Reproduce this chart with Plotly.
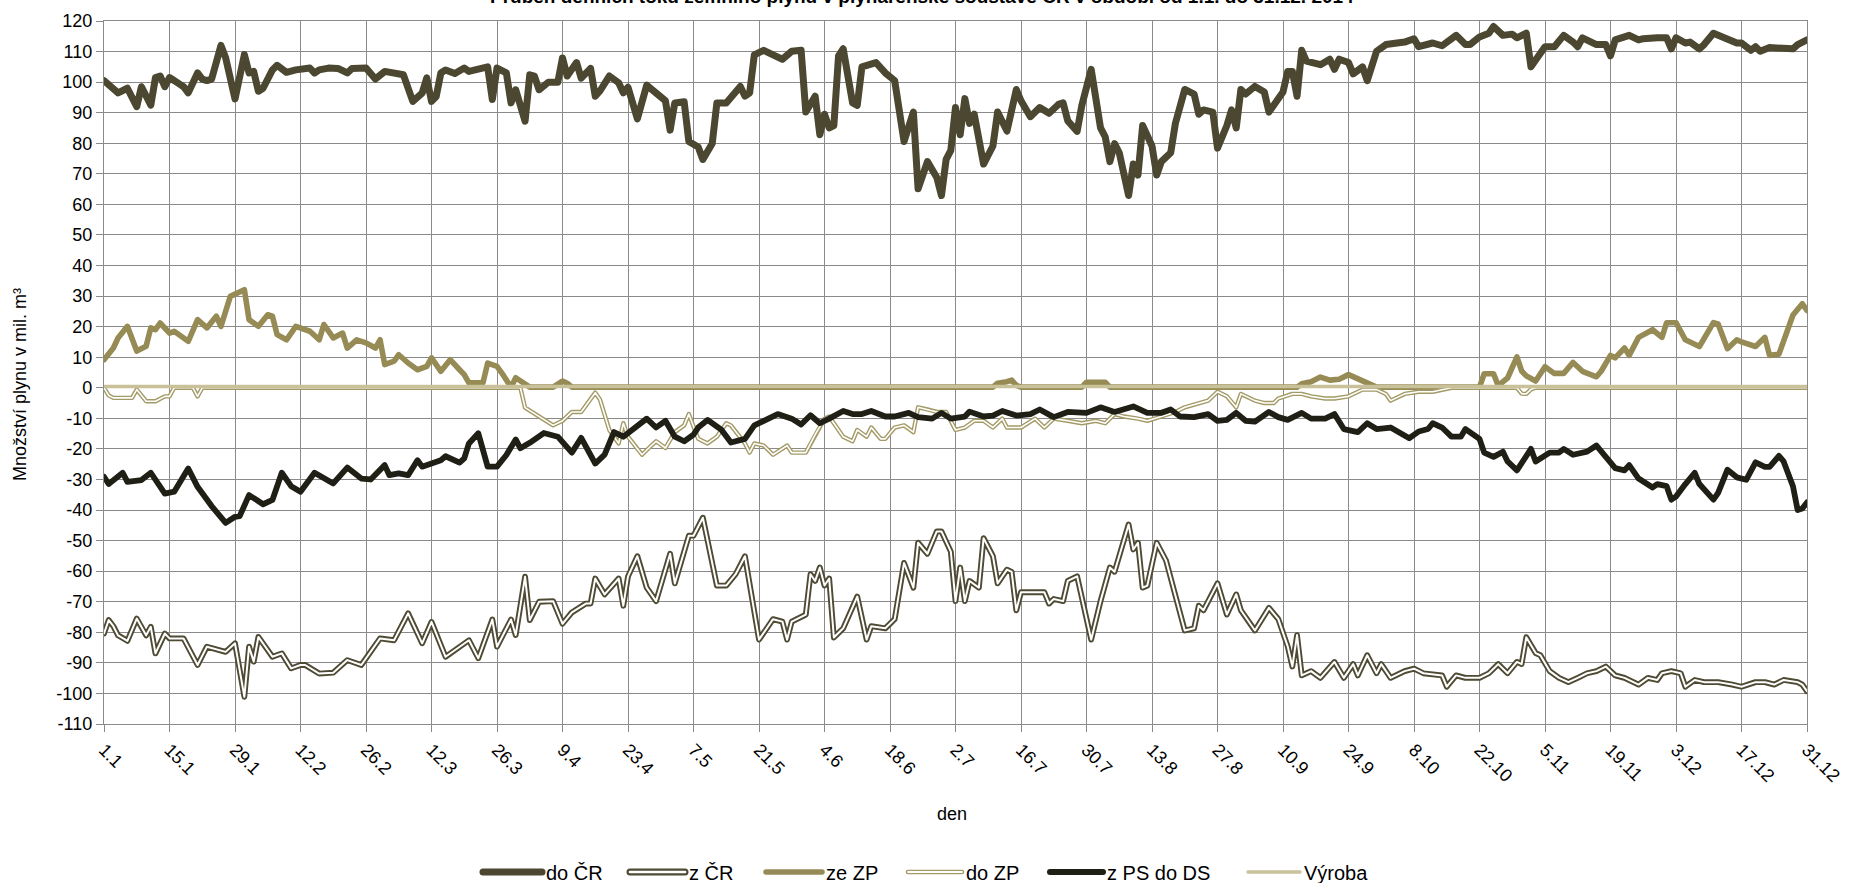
import datetime as dt
import plotly.graph_objects as go

# ---------------- data (day of year 0 = 1.1.2014, values in mil. m3) ----------------
tick_labels = ["1.1", "15.1", "29.1", "12.2", "26.2", "12.3", "26.3", "9.4", "23.4", "7.5",
               "21.5", "4.6", "18.6", "2.7", "16.7", "30.7", "13.8", "27.8", "10.9", "24.9",
               "8.10", "22.10", "5.11", "19.11", "3.12", "17.12", "31.12"]

do_CR = [(0, 100.5), (1, 99), (2, 97.5), (3, 96.5), (5, 98), (7, 92), (8, 98.5), (10, 92.5), (11, 101.5),
         (12, 102), (13, 98.5), (14, 101.5), (16, 99.5), (17, 98.5), (18, 96.5), (20, 103), (21, 101),
         (22, 100.5), (23, 101), (25, 112), (26, 108), (27, 100), (28, 94.5), (30, 109), (31, 103),
         (32, 103.5), (33, 97), (34, 98), (36, 104), (37, 105.5), (39, 103.2), (41, 104), (44, 104.6),
         (45, 103), (46, 104), (48, 104.6), (50, 104.5), (52, 103), (53, 104.5), (56, 104.6), (58, 101),
         (60, 103.5), (62, 103), (64, 102.4), (66, 93.7), (68, 96.4), (69, 101.4), (70, 93.7), (71, 95.3),
         (72, 103), (73, 104), (75, 102.8), (77, 104.6), (78, 103.5), (82, 105), (83, 94.3), (84, 104.6),
         (86, 103), (87, 93.2), (88, 97.5), (90, 87.2), (91, 102.4), (92, 102), (93, 97.5), (95, 100),
         (97, 100), (98, 107.9), (99, 102), (101, 106.4), (102, 101.3), (104, 104.5), (105, 95.4),
         (106, 97.1), (108, 102), (110, 99.8), (111, 96.5), (112, 98.3), (114, 88), (116, 99), (118, 96.8),
         (120, 93.9), (121, 84.3), (122, 93.2), (124, 93.6), (125, 80.6), (127, 78.8), (128, 74.7),
         (130, 79.9), (131, 93.2), (133, 93.2), (135, 96.5), (136, 98.6), (137, 95.4), (138, 96.5),
         (139, 108.9), (141, 110.4), (143, 108.9), (145, 107.5), (147, 110.1), (149, 110.4), (150, 90.2),
         (152, 95.4), (153, 82.8), (154, 89.5), (155, 85), (156, 85.8), (157, 108.6), (158, 110.9),
         (160, 93.2), (161, 92.4), (162, 105), (165, 106.4), (167, 103), (169, 100.5), (171, 80.6),
         (173, 90.2), (174, 65.1), (176, 74), (178, 68.8), (179, 62.9), (180, 74.7), (181, 77.7),
         (182, 91.7), (183, 82.8), (184, 94.6), (185, 86.5), (186, 89.5), (188, 73.2), (190, 79.1),
         (191, 90.2), (193, 84), (195, 97.6), (196, 93.9), (198, 88.7), (200, 91.7), (202, 89.8),
         (204, 92.7), (205, 93.2), (206, 87.3), (208, 83.9), (209, 92.4), (211, 104.2), (213, 85),
         (214, 82.1), (215, 74), (216, 79.9), (217, 76.9), (219, 62.9), (220, 73.2), (221, 69.6),
         (222, 85.8), (224, 79.1), (225, 69.6), (226, 74), (228, 76.9), (229, 86.5), (231, 97.6),
         (233, 96.1), (234, 89.5), (235, 90.9), (237, 90.2), (238, 78.4), (240, 85.8), (241, 90.9),
         (242, 85), (243, 97.6), (244, 96.1), (246, 98.6), (248, 96.8), (249, 90.2), (252, 96.8),
         (253, 103.5), (254, 103.5), (255, 95.4), (256, 110.4), (257, 106.9), (260, 105.7), (262, 107.5),
         (263, 104.2), (264, 107.5), (266, 106.4), (267, 102.7), (269, 105), (270, 100.5), (272, 110.1),
         (274, 112.3), (278, 113.1), (280, 114.2), (281, 111.6), (284, 112.8), (286, 111.9), (288, 113.8),
         (289, 115.3), (291, 112.3), (292, 112.3), (294, 114.8), (296, 116), (297, 118.2), (299, 115.3),
         (301, 115.7), (302, 114.5), (304, 116), (305, 105), (306, 107.2), (308, 111.6), (310, 111.6),
         (312, 115.3), (314, 113.1), (315, 111.6), (316, 114.5), (319, 112.3), (321, 112.3), (322, 108.6),
         (323, 113.8), (326, 115.3), (328, 113.8), (329, 114.2), (332, 114.5), (334, 114.5), (335, 110.9),
         (336, 114.5), (338, 112.8), (339, 113.1), (341, 110.9), (342, 112.3), (344, 116), (346, 114.5),
         (349, 112.8), (350, 112.8), (352, 110.4), (353, 111.6), (354, 110.1), (356, 111.3), (359, 110.9),
         (361, 110.9), (362, 112.3), (363, 113.4), (364, 113.8)]

z_CR = [(0, -80.4), (1, -76), (2, -78), (3, -81), (5, -82.8), (7, -75.5), (9, -81), (10, -78.2), (11, -86.9),
        (13, -80.4), (14, -82), (17, -82), (20, -90.7), (22, -84.7), (26, -86.4), (28, -83.6), (30, -101.1),
        (31, -84.7), (32, -89.6), (33, -81.5), (36, -88), (38, -86.9), (40, -91.8), (42, -90.7), (43, -90.7),
        (46, -93.5), (49, -93.2), (52, -89.1), (55, -90.7), (59, -82), (62, -82.6), (65, -73.8), (68, -83.6),
        (70, -76.6), (73, -88), (75, -85.8), (78, -82.6), (80, -88.5), (83, -75.8), (84, -84.7), (87, -75.8),
        (88, -80.9), (90, -61.8), (91, -76), (93, -70), (96, -69.8), (98, -77.2), (100, -73.5), (103, -70.6),
        (104, -70.6), (105, -62.4), (107, -67.6), (110, -62.4), (111, -71.3), (112, -61.7), (114, -55.1),
        (116, -65.4), (118, -69.8), (121, -54.3), (122, -64), (125, -48.4), (126, -48.4), (128, -42.5),
        (131, -64.7), (133, -64.7), (135, -61), (137, -55.1), (140, -82.4), (143, -75.7), (145, -76.5),
        (146, -82.4), (147, -76.5), (150, -74.2), (151, -61), (152, -63.2), (153, -58.8), (154, -64.7),
        (155, -62.4), (156, -81.7), (158, -78.7), (161, -68.3), (163, -82.4), (164, -78), (167, -78.7),
        (169, -75.7), (171, -57.3), (173, -65.4), (174, -50.7), (176, -54.3), (178, -47), (179, -47),
        (181, -53.6), (182, -69.8), (183, -58.8), (184, -69.8), (185, -63.2), (187, -65.4), (188, -49.2),
        (190, -55.1), (191, -64), (193, -59.5), (194, -60.2), (195, -72.8), (196, -66.9), (199, -66.9),
        (201, -66.9), (202, -70.6), (203, -69.1), (205, -69.8), (206, -63.2), (208, -61.7), (211, -82.4),
        (213, -69.8), (215, -58.8), (216, -60.2), (219, -44.7), (220, -52.9), (221, -50.7), (222, -65.4),
        (223, -64.7), (225, -50.7), (227, -56.5), (231, -79.4), (233, -78.7), (234, -71.3), (235, -72.8),
        (238, -64), (240, -74.2), (242, -67.6), (243, -72.8), (246, -79.4), (249, -72), (251, -75.7),
        (253, -84.6), (254, -91.2), (255, -80.9), (256, -94.1), (258, -92.7), (260, -94.9), (263, -89.7),
        (265, -94.9), (267, -90.4), (268, -94.1), (270, -87.5), (272, -93.4), (273, -90.4), (275, -94.9),
        (278, -92.7), (280, -91.9), (282, -93.4), (286, -94.1), (287, -97.8), (289, -94.1), (291, -94.9),
        (294, -94.9), (296, -93.4), (298, -90.4), (300, -93.4), (302, -89.7), (303, -90.4), (304, -81.6),
        (306, -86.8), (307, -87.5), (309, -92.7), (311, -94.9), (313, -96.3), (315, -94.9), (317, -93.4),
        (319, -92.7), (321, -91.2), (323, -94.1), (325, -94.9), (328, -97.1), (330, -94.9), (332, -95.6),
        (333, -93.4), (335, -92.7), (337, -93.4), (338, -97.8), (340, -95.6), (342, -96.3), (345, -96.3),
        (348, -97.1), (350, -97.8), (353, -96.3), (355, -96.3), (357, -97.1), (359, -95.6), (362, -96.3),
        (363, -97.1), (364, -99.3)]

ze_ZP = [(0, 9.2), (2, 13), (3, 16.3), (5, 20.1), (7, 12), (9, 13.6), (10, 19.6), (11, 19), (12, 21.2),
         (14, 17.9), (15, 18.5), (18, 15.2), (20, 22.3), (22, 19.6), (24, 23.4), (25, 20.1), (27, 29.9),
         (28, 30.5), (30, 32.1), (31, 22.3), (33, 20.1), (35, 23.9), (36, 23.4), (37, 17.4), (39, 15.7),
         (41, 20.1), (43, 19), (44, 18.5), (46, 15.7), (47, 20.7), (49, 16.3), (51, 17.9), (52, 13),
         (54, 15.7), (56, 14.7), (58, 13), (59, 15.7), (60, 7.6), (62, 8.7), (63, 10.8), (65, 8.1),
         (67, 5.9), (69, 7), (70, 9.8), (72, 5.4), (74, 9.2), (76, 5.9), (77, 4.3), (78, 1.6), (81, 1.6),
         (82, 8.1), (84, 7), (85, 4.9), (87, 0.2), (88, 3.3), (90, 1.1), (91, 0.2), (96, 0.2), (97, 1.5),
         (98, 2.2), (99, 1.5), (100, 0.2), (190, 0.2), (191, 1.5), (193, 2), (194, 2.5), (195, 0.8),
         (196, 0.2), (209, 0.2), (210, 1.8), (214, 1.8), (215, 0.2), (255, 0.2), (256, 1.3), (258, 2),
         (260, 3.5), (262, 2.5), (264, 2.8), (266, 4.3), (268, 3), (270, 1.3), (272, 0.2), (294, 0.2),
         (295, 4.6), (297, 4.6), (298, 0.7), (300, 3.2), (302, 10.1), (303, 5.5), (304, 3.9), (306, 2.2),
         (308, 6.9), (310, 4.7), (312, 4.7), (314, 8.3), (316, 5.4), (319, 3.6), (320, 5.4), (322, 10.6),
         (323, 9.8), (325, 13), (326, 10.6), (328, 16.5), (330, 17.9), (331, 19), (333, 16.5), (334, 21.3),
         (336, 21.3), (338, 15.7), (341, 13.5), (344, 21.3), (345, 20.9), (347, 12.8), (349, 15.7),
         (350, 15), (353, 13.5), (355, 16.5), (356, 10.6), (358, 11), (361, 23.8), (362, 26), (363, 27.5),
         (364, 25.3)]

do_ZP = [(0, 0), (1, -2.5), (2, -3.3), (6, -3.3), (7, -0.6), (9, -4.4), (11, -4.4), (13, -2.8), (14, -2.8),
         (15, 0), (19, 0), (20, -2.8), (21, 0), (89, 0), (90, -6.5), (93, -9.5), (96, -12.3), (98, -10.8),
         (100, -7.9), (102, -7.9), (105, -1.6), (106, -3.8), (108, -13.8), (110, -18.2), (111, -11.6),
         (112, -16), (115, -21.9), (117, -18.9), (118, -17.5), (120, -19.7), (122, -14.5), (124, -12.3),
         (125, -8.6), (127, -16.7), (129, -18.2), (131, -16), (133, -11.6), (134, -12.3), (137, -18.2),
         (138, -21.2), (139, -18.2), (141, -18.9), (143, -21.9), (146, -18.9), (147, -21.2), (150, -21.2),
         (152, -15.3), (154, -10.1), (155, -9.4), (158, -16), (160, -17.5), (161, -13.8), (163, -16),
         (164, -13), (166, -16.7), (167, -16.7), (169, -13), (171, -12.3), (173, -14.5), (174, -6.4),
         (176, -7.1), (178, -7.9), (180, -7.9), (182, -13.8), (184, -13), (186, -10.8), (188, -10.8),
         (190, -13), (192, -10.1), (193, -13), (196, -13), (199, -10.1), (201, -13), (203, -10.1),
         (206, -10.8), (209, -11.6), (212, -10.8), (214, -11.6), (216, -8.6), (218, -9.4), (221, -10.1),
         (223, -10.8), (226, -9.4), (229, -7.9), (231, -6.4), (234, -5), (236, -4.2), (238, -1.3),
         (240, -2.8), (242, -6.4), (243, -2), (246, -4.2), (248, -5), (250, -5), (251, -3.5), (254, -2),
         (256, -2), (258, -2.8), (261, -3.5), (263, -3.5), (266, -2.8), (269, -0.6), (272, -0.6), (274, -2),
         (275, -4.2), (278, -2), (281, -1.3), (284, -1.3), (286, -0.6), (288, 0), (302, 0), (303, -1.9),
         (304, -2), (305, -0.5), (306, 0), (364, 0)]

z_PS_do_DS = [(0, -29.1), (1, -31.5), (4, -27.8), (5, -30.8), (8, -30.2), (10, -27.8), (13, -34.6), (15, -34),
              (18, -26.4), (20, -32.4), (23, -38.7), (24, -40.6), (26, -44.2), (28, -42.2), (29, -42),
              (31, -35.1), (34, -38.1), (36, -36.7), (38, -27.8), (40, -32.2), (42, -34), (45, -27.8),
              (49, -31.3), (52, -26.1), (55, -29.7), (57, -30), (58, -28.6), (60, -25.3), (61, -28.6),
              (63, -28), (65, -28.6), (67, -23.7), (68, -25.8), (72, -23.7), (73, -22.4), (76, -24.5),
              (77, -23.1), (78, -18.2), (80, -14.9), (82, -25.8), (84, -25.8), (86, -22), (88, -16.9),
              (89, -19.8), (91, -18), (94, -14.8), (97, -16), (100, -21.2), (102, -16.4), (105, -24.8),
              (107, -21.9), (109, -14.5), (111, -16), (114, -12.6), (116, -10.1), (118, -13), (120, -10.8),
              (122, -16), (124, -17.5), (126, -15.3), (127, -13), (129, -10.5), (132, -13.8), (134, -17.9),
              (137, -16.7), (139, -12.3), (141, -10.8), (144, -8.6), (147, -10.1), (149, -12), (151, -9),
              (153, -11.6), (155, -10.1), (158, -7.6), (160, -8.6), (162, -8.6), (164, -7.6), (167, -9.4),
              (169, -9.4), (172, -8.2), (174, -9.6), (177, -10.1), (179, -8.2), (181, -10.1), (184, -9.4),
              (185, -7.8), (188, -9.4), (190, -9.1), (192, -7.6), (195, -9.1), (198, -8.6), (200, -7.1),
              (203, -9.6), (206, -7.9), (210, -8.2), (213, -6.4), (216, -7.9), (220, -6.1), (223, -8.2),
              (226, -8.2), (228, -7.1), (230, -9.4), (233, -9.6), (236, -8.6), (238, -10.8), (240, -10.5),
              (242, -8.2), (244, -10.8), (246, -11.1), (249, -7.9), (251, -9.6), (253, -10.5), (256, -8.2),
              (258, -10.1), (261, -10.1), (263, -8.6), (265, -13.5), (268, -14.5), (270, -11.6), (272, -13.5),
              (275, -13), (277, -14.5), (279, -16.5), (281, -14.3), (283, -13.5), (284, -11.6), (286, -13),
              (288, -16), (290, -16), (291, -13.5), (294, -16.7), (295, -21.2), (297, -22.6), (299, -20.9),
              (300, -24.1), (302, -27), (303, -24.8), (305, -20), (306, -24.1), (309, -21.2), (311, -21.2),
              (312, -20), (314, -21.9), (317, -20.9), (319, -18.9), (321, -22.3), (323, -26.3), (325, -27),
              (326, -25.3), (328, -29.7), (331, -32.6), (332, -31.5), (334, -32.2), (335, -36.6),
              (336, -35.6), (338, -31.5), (340, -27.8), (341, -31.5), (344, -36.6), (345, -34.4),
              (347, -26.8), (349, -29.3), (351, -30.1), (353, -24.4), (355, -25.9), (356, -25.9),
              (358, -22.3), (359, -24.1), (361, -32.2), (362, -40), (363, -39.5), (364, -37.5)]

vyroba = [(0, 0.4), (31, 0.4), (59, 0.4), (90, 0.4), (120, 0.4), (151, 0.4), (181, 0.4), (212, 0.4),
          (243, 0.4), (273, 0.4), (304, 0.4), (334, 0.4), (364, 0.4)]

# ---------------- styling ----------------
FONT = "Arial, 'Liberation Sans', Helvetica, sans-serif"
GRID = "#8a8a8a"
C_DO_CR = "#4b4730"
C_Z_CR = "#4e4a33"
C_ZE_ZP = "#968b55"
C_DO_ZP = "#a39a66"
C_ZPS = "#201f16"
C_VYR = "#c9c199"

day0 = dt.date(2014, 1, 1)
tick_days = [(dt.date(2014, int(s.split(".")[1]), int(s.split(".")[0])) - day0).days for s in tick_labels]


def xy(points):
    return [p[0] for p in points], [p[1] for p in points]


fig = go.Figure()


def add(points, color, width, name):
    x, y = xy(points)
    fig.add_trace(go.Scatter(x=x, y=y, mode="lines", name=name, showlegend=False,
                             line=dict(color=color, width=width), hoverinfo="x+y+name"))


add(do_CR, C_DO_CR, 7.0, "do ČR")
add(z_CR, C_Z_CR, 5.8, "z ČR")
add(z_CR, "#ffffff", 2.0, "z ČR")
add(ze_ZP, C_ZE_ZP, 5.6, "ze ZP")
add(do_ZP, C_DO_ZP, 4.4, "do ZP")
add(do_ZP, "#ffffff", 1.6, "do ZP")
add(z_PS_do_DS, C_ZPS, 5.8, "z PS do DS")
add(vyroba, C_VYR, 3.4, "Výroba")

# plot geometry (pixels)
W, H = 1855, 883
L, R, T, B = 104, 48, 21, 159
PW, PH = W - L - R, H - T - B


def px(xp):
    return (xp - L) / PW


def py(yp):
    return (H - B - yp) / PH


# manual legend (name, symbol start x, symbol end x, strokes)
legend_items = [("do ČR", 483, 542, [(C_DO_CR, 7)]),
                ("z ČR", 630, 685, [(C_Z_CR, 7), ("#ffffff", 2.6)]),
                ("ze ZP", 766, 822, [(C_ZE_ZP, 5.5)]),
                ("do ZP", 908, 962, [(C_DO_ZP, 4.6), ("#ffffff", 1.8)]),
                ("z PS do DS", 1050, 1103, [(C_ZPS, 6)]),
                ("Výroba", 1248, 1300, [(C_VYR, 3.5)])]
shapes = []
annotations = []
LY = 872
for name, x0, x1, strokes in legend_items:
    for col, wd in strokes:
        shapes.append(dict(type="line", xref="paper", yref="paper", x0=px(x0), x1=px(x1),
                           y0=py(LY), y1=py(LY), line=dict(color=col, width=wd), layer="above"))
    annotations.append(dict(text=name, xref="paper", yref="paper", x=px(x1 + 2), y=py(LY + 1),
                            xanchor="left", yanchor="middle", showarrow=False,
                            font=dict(family=FONT, size=20, color="#000000")))

annotations.append(dict(text="<b>Průběh denních toků zemního plynu v plynárenské soustavě ČR v období od 1.1. do 31.12. 2014</b>",
                        xref="paper", yref="paper", x=px(922), y=py(9), xanchor="center", yanchor="bottom",
                        showarrow=False, font=dict(family=FONT, size=19, color="#000000")))
annotations.append(dict(text="Množství plynu v mil. m³", xref="paper", yref="paper", x=px(20), y=py(385),
                        xanchor="center", yanchor="middle", textangle=-90, showarrow=False,
                        font=dict(family=FONT, size=18, color="#000000")))
annotations.append(dict(text="den", xref="paper", yref="paper", x=px(952), y=py(814),
                        xanchor="center", yanchor="middle", showarrow=False,
                        font=dict(family=FONT, size=18, color="#000000")))

y_ticks = list(range(-110, 121, 10))

fig.update_layout(
    width=W, height=H,
    margin=dict(l=L, r=R, t=T, b=B, pad=0),
    paper_bgcolor="#ffffff", plot_bgcolor="#ffffff",
    font=dict(family=FONT, size=18, color="#000000"),
    showlegend=False,
    shapes=shapes, annotations=annotations,
    xaxis=dict(range=[0, 364], tickvals=tick_days, ticktext=tick_labels, tickangle=45,
               showgrid=True, gridcolor=GRID, gridwidth=1.4, zeroline=False,
               showline=True, linecolor=GRID, linewidth=1.4, mirror=True,
               ticks="outside", ticklen=7, tickcolor=GRID, tickwidth=1.4,
               tickfont=dict(family=FONT, size=18, color="#000000")),
    yaxis=dict(range=[-110, 120], tickvals=y_ticks, ticktext=[str(v) for v in y_ticks],
               showgrid=True, gridcolor=GRID, gridwidth=1.4, zeroline=False,
               showline=True, linecolor=GRID, linewidth=1.4, mirror=True,
               ticks="outside", ticklen=7, tickcolor=GRID, tickwidth=1.4,
               tickfont=dict(family=FONT, size=18, color="#000000")),
)

post = ("document.body.style.margin='0';document.body.style.overflow='hidden';"
        "document.querySelectorAll('.js-line').forEach(function(p){p.style.strokeLinejoin='round';"
        "p.style.strokeLinecap='round';});"
        "document.querySelectorAll('.shapelayer path').forEach(function(p){p.style.strokeLinecap='round';});")

fig.write_html("out.html", config={"displayModeBar": False}, post_script=post)
